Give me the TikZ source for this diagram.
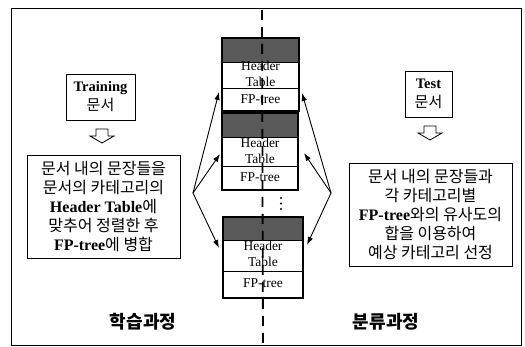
\documentclass[tikz,border=0pt]{standalone}
\usepackage{fontspec}
\setmainfont{Liberation Serif}
\newfontfamily\kr{Noto Sans CJK KR}
\usetikzlibrary{arrows.meta}
\begin{document}
\begin{tikzpicture}[x=1pt,y=-1pt,
  frame/.style={line width=0.8pt},
  tbox/.style={draw,line width=0.8pt,align=center,inner sep=0pt},
  hdr/.style={fill=black!65},
  blkline/.style={line width=0.6pt},
  blkframe/.style={line width=2pt},
  cell/.style={inner sep=0pt,align=center,font=\fontsize{13.5}{16}\selectfont},
  conn/.style={line width=0.9pt,-{Latex[length=8pt,width=5.5pt]}},
  hollow/.style={line width=0.8pt},
  midline/.style={line width=1.8pt,dash pattern=on 10pt off 7pt},
  ktext/.style={font=\fontsize{16}{19}\selectfont\kr},
  lbl/.style={font=\fontsize{18}{20}\selectfont\kr\bfseries}]
\useasboundingbox (0,0) rectangle (525,347);
\draw[frame] (11,8) rectangle (521,345);

% source documents
\node[tbox,minimum width=69pt,minimum height=46pt,font=\fontsize{14.5}{19}\selectfont] (train) at (100.5,97) {\textbf{Training}\\{\kr\fontsize{15}{19}\selectfont 문서}};
\node[tbox,minimum width=47pt,minimum height=46pt,font=\fontsize{14.5}{19}\selectfont] (test) at (428.5,94) {\textbf{Test}\\{\kr\fontsize{15}{19}\selectfont 문서}};

% hollow arrows
\draw[hollow] (96,129) -- (108,129) -- (108,136) -- (114,136) -- (102,143) -- (90,136) -- (96,136) -- cycle;
\draw[hollow] (424,126) -- (436,126) -- (436,133) -- (442,133) -- (430,140) -- (418,133) -- (424,133) -- cycle;

% process boxes
\node[tbox,minimum width=153pt,minimum height=103pt,ktext] (learn) at (103.5,206.5)
 {문서 내의 문장들을\\문서의 카테고리의\\{\rmfamily\bfseries Header Table}에\\맞추어 정렬한 후\\{\rmfamily\bfseries FP-tree}에 병합};
\node[tbox,minimum width=163pt,minimum height=103pt,ktext] (classify) at (430.5,214.5)
 {문서 내의 문장들과\\각 카테고리별\\{\rmfamily\bfseries FP-tree}와의 유사도의\\합을 이용하여\\예상 카테고리 선정};

% FP blocks
\fill[hdr] (222,38) rectangle (299,62);
\draw[blkline] (222,62) -- (299,62) (222,88) -- (299,88);
\draw[blkframe] (222,38) rectangle (299,111);
\node[cell] (h1) at (260.5,74) {Header\\Table};
\node[cell] (f1) at (260.5,99) {FP-tree};

\fill[hdr] (222,113) rectangle (298,137);
\draw[blkline] (222,137) -- (298,137) (222,166) -- (298,166);
\draw[blkframe] (222,113) rectangle (298,190);
\node[cell] (h2) at (260,151) {Header\\Table};
\node[cell] (f2) at (260,177) {FP-tree};

\fill[hdr] (223,217) rectangle (303,240);
\draw[blkline] (223,240) -- (303,240) (223,271) -- (303,271);
\draw[blkframe] (223,217) rectangle (303,298);
\node[cell] (h3) at (263,254) {Header\\Table};
\node[cell] (f3) at (263,283) {FP-tree};

\fill (281,198) circle (1.2pt) (281,203.5) circle (1.2pt) (281,209) circle (1.2pt);

% connectors
\coordinate (L) at (193,193);
\coordinate (R) at (331,193);
\coordinate (t1l) at (219,92);
\coordinate (t2l) at (220,154);
\coordinate (t3l) at (219,248);
\coordinate (t1r) at (302,93);
\coordinate (t2r) at (304,153);
\coordinate (t3r) at (307,245);
\draw[conn] (L) -- (t1l);
\draw[conn] (L) -- (t2l);
\draw[conn] (L) -- (t3l);
\draw[conn] (R) -- (t1r);
\draw[conn] (R) -- (t2r);
\draw[conn] (R) -- (t3r);

% divider
\coordinate (dtop) at (262,10);
\coordinate (dbot) at (263,345);
\draw[midline] (dtop) -- (dbot);

% labels
\node[lbl] (lab1) at (143,322) {학습과정};
\node[lbl] (lab2) at (386,322) {분류과정};
\end{tikzpicture}
\end{document}
